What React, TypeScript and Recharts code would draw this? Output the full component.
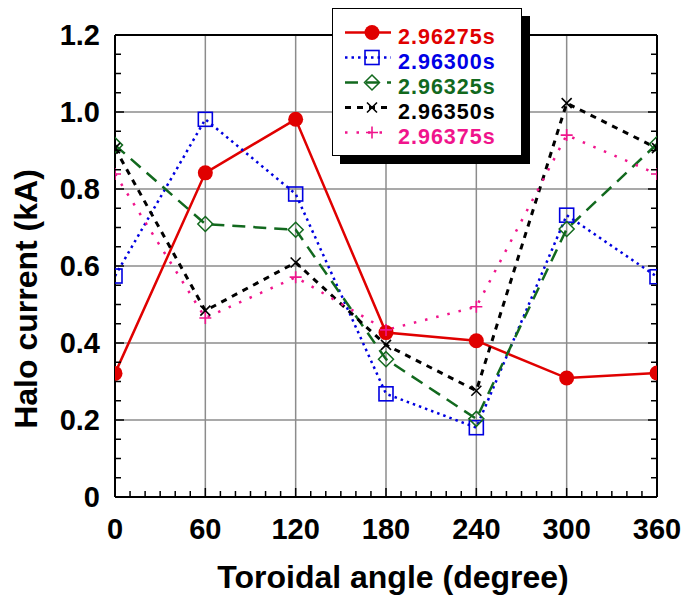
import { LineChart, Line, XAxis, YAxis, CartesianGrid, Legend } from 'recharts';

// toroidal angle (deg)
const angles = [0, 60, 120, 180, 240, 300, 360];

// halo current (kA) per time slice
const t296275 = [0.321, 0.842, 0.981, 0.427, 0.406, 0.309, 0.322];
const t296300 = [0.574, 0.981, 0.787, 0.268, 0.18, 0.732, 0.572];
const t296325 = [0.914, 0.709, 0.694, 0.358, 0.203, 0.696, 0.917];
const t296350 = [0.906, 0.484, 0.609, 0.395, 0.276, 1.023, 0.906];
const t296375 = [0.839, 0.465, 0.571, 0.434, 0.494, 0.94, 0.839];

const xMajor = [0, 60, 120, 180, 240, 300, 360];
const xMinor = [
  0, 10, 20, 30, 40, 50, 60, 70, 80, 90, 100, 110, 120, 130, 140, 150, 160, 170, 180,
  190, 200, 210, 220, 230, 240, 250, 260, 270, 280, 290, 300, 310, 320, 330, 340, 350, 360,
];
const yMajor = [0, 0.2, 0.4, 0.6, 0.8, 1.0, 1.2];
const yMinor = [
  0, 0.05, 0.1, 0.15, 0.2, 0.25, 0.3, 0.35, 0.4, 0.45, 0.5, 0.55, 0.6, 0.65, 0.7, 0.75,
  0.8, 0.85, 0.9, 0.95, 1.0, 1.05, 1.1, 1.15, 1.2,
];

const FONT = '"Liberation Sans", Arial, Helvetica, sans-serif';

type Shape = 'circle' | 'square' | 'diamond' | 'cross' | 'plus';

const series: {
  key: string; name: string; color: string; text: string; dash?: string; width: number; shape: Shape;
}[] = [
  { key: 'a', name: '2.96275s', color: '#e00000', text: '#e00000', width: 2.5, shape: 'circle' },
  { key: 'b', name: '2.96300s', color: '#0000e0', text: '#0000e6', dash: '2.5 4', width: 2.5, shape: 'square' },
  { key: 'c', name: '2.96325s', color: '#12691e', text: '#12691e', dash: '13 8', width: 2.5, shape: 'diamond' },
  { key: 'd', name: '2.96350s', color: '#000000', text: '#000000', dash: '6 6', width: 3, shape: 'cross' },
  { key: 'e', name: '2.96375s', color: '#f0148c', text: '#f0148c', dash: '2.5 9', width: 2.5, shape: 'plus' },
];

const data = angles.map((angle, i) => ({
  angle,
  a: t296275[i],
  b: t296300[i],
  c: t296325[i],
  d: t296350[i],
  e: t296375[i],
}));

function Marker({ shape, cx, cy, color }: { shape: Shape; cx: number; cy: number; color: string }) {
  if (cx == null || cy == null) return <g />;
  switch (shape) {
    case 'circle':
      return <circle cx={cx} cy={cy} r={7.5} fill={color} stroke="none" />;
    case 'square':
      return <rect x={cx - 7} y={cy - 7} width={14} height={14} fill="none" stroke={color} strokeWidth={1.6} strokeDasharray="none" />;
    case 'diamond':
      return (
        <path d={`M${cx} ${cy - 7.5}L${cx + 7.5} ${cy}L${cx} ${cy + 7.5}L${cx - 7.5} ${cy}Z`}
          fill="none" stroke={color} strokeWidth={1.5} strokeDasharray="none" />
      );
    case 'cross':
      return (
        <path d={`M${cx - 5} ${cy - 5}L${cx + 5} ${cy + 5}M${cx - 5} ${cy + 5}L${cx + 5} ${cy - 5}`}
          fill="none" stroke={color} strokeWidth={1.6} strokeDasharray="none" />
      );
    default:
      return (
        <path d={`M${cx - 6} ${cy}L${cx + 6} ${cy}M${cx} ${cy - 6}L${cx} ${cy + 6}`}
          fill="none" stroke={color} strokeWidth={1.6} strokeDasharray="none" />
      );
  }
}

const tickFont = { fontFamily: FONT, fontSize: 29, fontWeight: 'bold' as const, fill: '#000' };
const MAJOR = 9;
const MINOR = 6;

// ticks point into the plot; labels only on the major ones
const BottomTick = (p: any) => {
  const v = p.payload.value;
  const major = xMajor.includes(v);
  const axisY = p.y - 21;
  return (
    <g>
      <line x1={p.x} y1={axisY} x2={p.x} y2={axisY - (major ? MAJOR : MINOR)} stroke="#000" strokeWidth={1.5} />
      {major && <text x={p.x} y={p.y} dy="0.71em" textAnchor="middle" {...tickFont}>{v}</text>}
    </g>
  );
};

const TopTick = (p: any) => {
  const major = xMajor.includes(p.payload.value);
  return <line x1={p.x} y1={p.y} x2={p.x} y2={p.y + (major ? MAJOR : MINOR)} stroke="#000" strokeWidth={1.5} />;
};

const LeftTick = (p: any) => {
  const v = p.payload.value;
  const major = yMajor.includes(v);
  const axisX = p.x + 15;
  return (
    <g>
      <line x1={axisX} y1={p.y} x2={axisX + (major ? MAJOR : MINOR)} y2={p.y} stroke="#000" strokeWidth={1.5} />
      {major && (
        <text x={p.x} y={p.y} dy="0.355em" textAnchor="end" {...tickFont}>
          {v === 0 ? '0' : v.toFixed(1)}
        </text>
      )}
    </g>
  );
};

const RightTick = (p: any) => {
  const major = yMajor.includes(p.payload.value);
  return <line x1={p.x} y1={p.y} x2={p.x - (major ? MAJOR : MINOR)} y2={p.y} stroke="#000" strokeWidth={1.5} />;
};

function LegendBox() {
  return (
    <div
      style={{
        boxSizing: 'border-box', width: 190, height: 148, background: '#fff',
        border: '1.5px solid #000', boxShadow: '8px 8px 0 #000', paddingTop: 16, fontFamily: FONT,
      }}
    >
      {series.map((s) => (
        <div key={s.key} style={{ display: 'flex', alignItems: 'center', height: 25 }}>
          <svg width={60} height={25} style={{ position: 'relative', top: -5, flex: 'none' }}>
            <line x1={12} y1={12.5} x2={58} y2={12.5} stroke={s.color} strokeWidth={s.width} strokeDasharray={s.dash} />
            <Marker shape={s.shape} cx={39} cy={12.5} color={s.color} />
          </svg>
          <span style={{ marginLeft: 5, fontSize: 21.5, letterSpacing: 1, fontWeight: 'bold', color: s.text, lineHeight: '25px' }}>
            {s.name}
          </span>
        </div>
      ))}
    </div>
  );
}

const xTitle = (props: any) => {
  const vb = props.viewBox;
  return (
    <text x={vb.x + vb.width / 2 + 7} y={vb.y + 80} textAnchor="middle" dominantBaseline="central"
      fontFamily={FONT} fontSize={32} fontWeight="bold" fill="#000">
      Toroidal angle (degree)
    </text>
  );
};

const yTitle = (props: any) => {
  const vb = props.viewBox;
  const x = vb.x + 26;
  const y = vb.y + vb.height / 2 + 33;
  return (
    <text x={x} y={y} transform={`rotate(-90, ${x}, ${y})`} textAnchor="middle" dominantBaseline="central"
      fontFamily={FONT} fontSize={32} fontWeight="bold" fill="#000">
      Halo current (kA)
    </text>
  );
};

const frame = { stroke: '#000', strokeWidth: 2 };

export default function App() {
  return (
    <div style={{ position: 'absolute', left: 0, top: 0, background: '#fff' }}>
      <LineChart width={690} height={596} data={data} margin={{ top: 34, right: 32, bottom: 0, left: 0 }}>
        <CartesianGrid xAxisId="main" yAxisId="main" stroke="#8c8c8c" strokeWidth={1.5}
          horizontalValues={yMajor} verticalValues={xMajor} />

        <XAxis xAxisId="main" dataKey="angle" type="number" domain={[0, 360]} allowDataOverflow ticks={xMinor}
          interval={0} height={99} tickLine={false} tickSize={0} tickMargin={21} tick={BottomTick}
          axisLine={frame} label={xTitle} />
        <XAxis xAxisId="top" orientation="top" type="number" domain={[0, 360]} allowDataOverflow ticks={xMinor}
          interval={0} height={1} tickLine={false} tickSize={0} tickMargin={0} tick={TopTick} axisLine={frame} />

        <YAxis yAxisId="main" type="number" domain={[0, 1.2]} allowDataOverflow ticks={yMinor} interval={0}
          width={115} tickLine={false} tickSize={0} tickMargin={15} tick={LeftTick}
          axisLine={frame} label={yTitle} />
        <YAxis yAxisId="right" orientation="right" type="number" domain={[0, 1.2]} allowDataOverflow ticks={yMinor}
          interval={0} width={1} tickLine={false} tickSize={0} tickMargin={0} tick={RightTick} axisLine={frame} />

        {series.map((s) => (
          <Line
            key={s.key}
            xAxisId="main"
            yAxisId="main"
            type="linear"
            dataKey={s.key}
            name={s.name}
            stroke={s.color}
            strokeWidth={s.width}
            strokeDasharray={s.dash}
            dot={(p: any) => <Marker key={`${s.key}-${p.index}`} shape={s.shape} cx={p.cx} cy={p.cy} color={s.color} />}
            activeDot={false}
            isAnimationActive={false}
          />
        ))}

        <Legend layout="horizontal" verticalAlign="middle" align="center"
          wrapperStyle={{ left: 332, top: 8, width: 190, height: 148 }} content={() => <LegendBox />} />
      </LineChart>
    </div>
  );
}
